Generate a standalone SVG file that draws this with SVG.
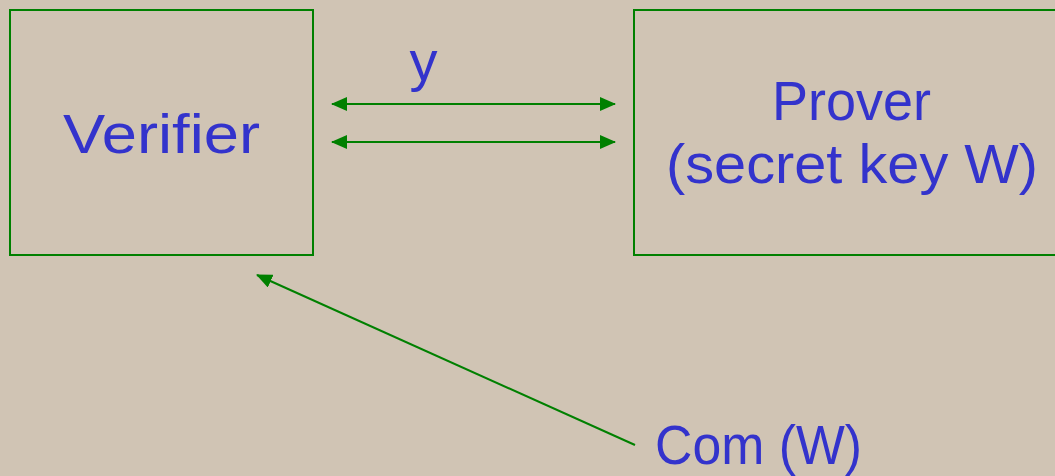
<svg xmlns="http://www.w3.org/2000/svg" width="1055" height="476" viewBox="0 0 1055 476">
  <defs>
    <style>
      .box { fill: none; stroke: #008000; stroke-width: 2; }
      .link { stroke: #008000; stroke-width: 2; fill: none; }
      .lbl { font-family: "Liberation Sans", "DejaVu Sans", sans-serif; font-size: 56px; fill: #3333CC; }
    </style>
    <marker id="head" viewBox="0 0 16 14" refX="15" refY="7" markerWidth="16" markerHeight="14" markerUnits="userSpaceOnUse" orient="auto-start-reverse">
      <path d="M0,0 L16,7 L0,14 Z" fill="#008000"/>
    </marker>
  </defs>
  <rect width="1055" height="476" fill="#D0C4B4"/>

  <g id="verifier">
    <rect class="box" x="10" y="10" width="303" height="245"/>
    <text class="lbl" x="161.5" y="153" text-anchor="middle" textLength="197" lengthAdjust="spacingAndGlyphs">Verifier</text>
  </g>

  <g id="prover">
    <rect class="box" x="634" y="10" width="440" height="245"/>
    <text class="lbl" x="851.5" y="120" text-anchor="middle" textLength="159" lengthAdjust="spacingAndGlyphs">Prover</text>
    <text class="lbl" x="852" y="183" text-anchor="middle" textLength="372" lengthAdjust="spacingAndGlyphs">(secret key W)</text>
  </g>

  <g id="commitment">
    <text class="lbl" x="758.5" y="464" text-anchor="middle" textLength="207" lengthAdjust="spacingAndGlyphs">Com (W)</text>
  </g>

  <g id="exchange-label">
    <text class="lbl" x="423.5" y="80" text-anchor="middle">y</text>
  </g>

  <g id="connectors">
    <line class="link" x1="332" y1="104" x2="615" y2="104" marker-start="url(#head)" marker-end="url(#head)"/>
    <line class="link" x1="332" y1="142" x2="615" y2="142" marker-start="url(#head)" marker-end="url(#head)"/>
    <line class="link" x1="635" y1="445" x2="257" y2="275" marker-end="url(#head)"/>
  </g>
</svg>
